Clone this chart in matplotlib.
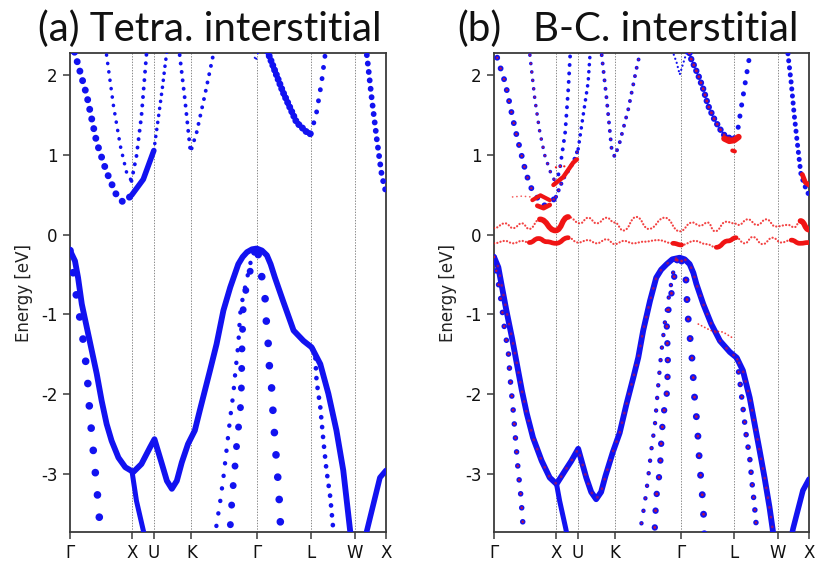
import matplotlib
matplotlib.use("Agg")
import matplotlib.pyplot as plt
from matplotlib.path import Path
from matplotlib.patches import PathPatch

plt.rcParams['axes.unicode_minus'] = False
plt.rcParams['lines.scale_dashes'] = False

BLUE = '#1212f0'
RED = '#f01414'

# high-symmetry path of the fcc zone (k distance in 2pi/a)
kpath_labels = ['Γ', 'X', 'U', 'K', 'Γ', 'L', 'W', 'X']
kpath_ticks = [0.0, 1.0, 1.354, 1.954, 3.015, 3.881, 4.588, 5.088]
e_ticks = [-3, -2, -1, 0, 1, 2]
e_range = (-3.72, 2.27)

# ---------------- (a) tetrahedral interstitial ----------------
a_v1_k = [0, 0.08, 0.13, 0.19, 0.27, 0.35, 0.43, 0.51, 0.59, 0.67, 0.78, 0.89, 1.02, 1.15, 1.29, 1.36,
          1.48, 1.56, 1.64, 1.72, 1.80, 1.90, 2.01, 2.09, 2.254, 2.36, 2.47, 2.58, 2.71, 2.78, 2.85,
          2.93, 3.006, 3.09, 3.17, 3.23, 3.30, 3.43, 3.60, 3.76, 3.89, 4.03, 4.16, 4.29, 4.40, 4.51,
          4.53]
a_v1_e = [-0.20, -0.33, -0.54, -0.87, -1.16, -1.45, -1.74, -2.08, -2.37, -2.58, -2.79, -2.91, -2.97,
          -2.87, -2.66, -2.56, -2.87, -3.08, -3.18, -3.08, -2.85, -2.62, -2.45, -2.20, -1.70, -1.37,
          -0.95, -0.66, -0.37, -0.28, -0.22, -0.185, -0.175, -0.20, -0.26, -0.37, -0.54, -0.83, -1.20,
          -1.33, -1.41, -1.62, -1.99, -2.45, -2.95, -3.70, -3.80]
a_v2_k = [0, 0.10, 0.20, 0.27, 0.30, 0.32, 0.36, 0.39, 0.43, 0.46, 0.49, 0.50]
a_v2_e = [-0.20, -0.75, -1.25, -1.70, -1.99, -2.27, -2.56, -2.85, -3.14, -3.43, -3.70, -3.80]
a_xdown_k = [1.0, 1.07, 1.18, 1.21]
a_xdown_e = [-2.97, -3.33, -3.70, -3.80]
a_linner_k = [3.91, 3.95, 3.97, 4.03, 4.08, 4.13, 4.19, 4.24, 4.25]
a_linner_e = [-1.43, -1.53, -1.83, -2.16, -2.58, -2.95, -3.28, -3.70, -3.80]
a_gright_k = [3.03, 3.06, 3.09, 3.14, 3.155, 3.19, 3.21, 3.25, 3.27, 3.30, 3.33, 3.36, 3.38, 3.40]
a_gright_e = [-0.25, -0.37, -0.54, -0.78, -1.03, -1.35, -1.64, -1.95, -2.24, -2.58, -2.89, -3.18,
              -3.49, -3.80]
a_ginner_k = [2.97, 2.92, 2.87, 2.83, 2.79, 2.77, 2.76, 2.74, 2.69, 2.66, 2.62, 2.59, 2.57]
a_ginner_e = [-0.22, -0.41, -0.54, -0.70, -0.89, -1.40, -1.91, -2.24, -2.56, -2.87, -3.20, -3.52, -3.80]
a_gouter_k = [2.95, 2.85, 2.78, 2.74, 2.71, 2.66, 2.63, 2.58, 2.52, 2.47, 2.42, 2.35, 2.33]
a_gouter_e = [-0.20, -0.55, -0.80, -0.99, -1.37, -1.74, -1.99, -2.29, -2.70, -3.04, -3.33, -3.68, -3.80]
a_wx_k = [4.75, 4.99, 5.088]
a_wx_e = [-3.80, -3.04, -2.95]

a_c1a_k = [0.03, 0.08, 0.27, 0.43, 0.59, 0.75, 0.86, 0.99]
a_c1a_e = [2.40, 2.26, 1.74, 1.15, 0.78, 0.49, 0.40, 0.49]
a_c1b_k = [0.99, 1.18, 1.35]
a_c1b_e = [0.49, 0.69, 1.05]
a_c1c_k = [1.35, 1.43, 1.49, 1.53, 1.57]
a_c1c_e = [1.05, 1.50, 1.85, 2.11, 2.35]
a_c2_k = [0.57, 0.70, 0.81, 0.91, 0.99]
a_c2_e = [2.35, 1.61, 1.11, 0.78, 0.67]
a_c3_k = [0.99, 1.07, 1.15, 1.23, 1.24]
a_c3_e = [0.67, 0.98, 1.48, 2.24, 2.35]
a_c4_k = [1.75, 1.85, 1.94, 2.04, 2.17, 2.31, 2.32]
a_c4_e = [2.35, 1.69, 1.03, 1.28, 1.74, 2.26, 2.35]
a_c5_k = [3.15, 3.43, 3.65, 3.84, 3.88]
a_c5_e = [2.35, 1.78, 1.40, 1.26, 1.26]
a_c5b_k = [3.88, 3.97, 4.05, 4.11, 4.12]
a_c5b_e = [1.26, 1.53, 1.90, 2.26, 2.35]
a_c6_k = [4.77, 4.78, 4.86, 4.94, 5.02, 5.088]
a_c6_e = [2.35, 2.24, 1.69, 1.19, 0.74, 0.52]
a_gtop_k = [2.95, 2.99, 3.03]
a_gtop_e = [2.28, 2.17, 2.28]

# ---------------- (b) bond-centred interstitial ----------------
b_v1_k = [0, 0.07, 0.12, 0.20, 0.29, 0.37, 0.45, 0.53, 0.63, 0.77, 0.90, 1.01, 1.15, 1.25, 1.36, 1.49,
          1.57, 1.65, 1.73, 1.80, 1.92, 2.03, 2.14, 2.25, 2.33, 2.41, 2.52, 2.62, 2.70, 2.79, 2.88,
          3.0, 3.08, 3.16, 3.22, 3.27, 3.38, 3.51, 3.65, 3.81, 3.92, 4.02, 4.13, 4.21, 4.29, 4.37,
          4.45, 4.50, 4.52]
b_v1_e = [-0.28, -0.41, -0.62, -0.95, -1.29, -1.62, -1.95, -2.24, -2.54, -2.83, -3.04, -3.12, -2.95,
          -2.83, -2.68, -3.04, -3.22, -3.31, -3.22, -3.02, -2.72, -2.48, -2.12, -1.79, -1.54, -1.20,
          -0.83, -0.54, -0.44, -0.37, -0.31, -0.29, -0.31, -0.37, -0.48, -0.62, -0.87, -1.12, -1.33,
          -1.47, -1.54, -1.70, -2.04, -2.37, -2.70, -3.04, -3.41, -3.68, -3.80]
b_v2_k = [0, 0.10, 0.18, 0.23, 0.26, 0.31, 0.35, 0.39, 0.43, 0.46, 0.48]
b_v2_e = [-0.28, -0.75, -1.24, -1.45, -1.79, -2.20, -2.58, -2.95, -3.24, -3.54, -3.80]
b_xdown_k = [1.01, 1.06, 1.16, 1.19]
b_xdown_e = [-3.12, -3.33, -3.68, -3.80]
b_linner_k = [3.93, 3.94, 3.97, 4.02, 4.07, 4.13, 4.17, 4.21, 4.24, 4.25]
b_linner_e = [-1.56, -1.66, -1.83, -2.16, -2.49, -2.79, -3.12, -3.41, -3.68, -3.80]
b_gright_k = [3.03, 3.08, 3.11, 3.12, 3.15, 3.19, 3.21, 3.24, 3.27, 3.30, 3.32, 3.35, 3.38, 3.40]
b_gright_e = [-0.33, -0.45, -0.62, -0.89, -1.18, -1.45, -1.70, -2.04, -2.29, -2.58, -2.87, -3.12,
              -3.41, -3.80]
b_ginner_k = [2.96, 2.92, 2.88, 2.85, 2.81, 2.79, 2.80, 2.81, 2.79, 2.73, 2.70, 2.68, 2.62, 2.60, 2.59]
b_ginner_e = [-0.32, -0.49, -0.66, -0.83, -0.97, -1.12, -1.35, -1.66, -1.99, -2.29, -2.62, -2.95,
              -3.29, -3.62, -3.80]
b_gouter_k = [2.93, 2.83, 2.76, 2.70, 2.65, 2.60, 2.54, 2.49, 2.44, 2.38, 2.36]
b_gouter_e = [-0.32, -0.75, -1.10, -1.49, -1.91, -2.37, -2.70, -3.04, -3.33, -3.62, -3.80]
b_wx_k = [4.80, 4.83, 4.99, 5.088]
b_wx_e = [-3.80, -3.68, -3.20, -3.06]

b_c1a_k = [0.02, 0.04, 0.18, 0.26, 0.34, 0.42, 0.50, 0.58, 0.69, 0.80, 0.92, 1.0]
b_c1a_e = [2.35, 2.24, 1.90, 1.61, 1.32, 1.07, 0.82, 0.61, 0.47, 0.36, 0.40, 0.47]
b_c1b_k = [1.0, 1.12, 1.28, 1.36]
b_c1b_e = [0.47, 0.70, 0.90, 1.07]
b_c1c_k = [1.36, 1.44, 1.52, 1.55, 1.56]
b_c1c_e = [1.07, 1.49, 1.90, 2.24, 2.35]
b_c2_k = [0.57, 0.58, 0.66, 0.74, 0.82, 0.93, 1.0]
b_c2_e = [2.35, 2.24, 1.69, 1.28, 0.99, 0.74, 0.65]
b_c3_k = [1.0, 1.06, 1.15, 1.20, 1.23, 1.24]
b_c3_e = [0.65, 0.80, 1.28, 1.82, 2.24, 2.35]
b_c4_k = [1.73, 1.74, 1.82, 1.90, 1.95, 2.03, 2.17, 2.30, 2.35, 2.36]
b_c4_e = [2.35, 2.24, 1.69, 1.07, 0.97, 1.15, 1.57, 2.07, 2.24, 2.35]
b_c5_k = [3.15, 3.16, 3.30, 3.38, 3.46, 3.56, 3.65, 3.75, 3.88]
b_c5_e = [2.35, 2.24, 1.99, 1.82, 1.61, 1.44, 1.32, 1.21, 1.21]
b_c5b_k = [3.88, 3.94, 3.99, 4.05, 4.13, 4.14]
b_c5b_e = [1.21, 1.32, 1.57, 1.86, 2.24, 2.35]
b_c6_k = [4.74, 4.75, 4.80, 4.85, 4.91, 4.96, 5.04, 5.088]
b_c6_e = [2.35, 2.24, 1.90, 1.49, 1.07, 0.74, 0.57, 0.49]
b_gtop_k = [2.88, 2.95, 3.0, 3.06, 3.12]
b_gtop_e = [2.30, 2.15, 2.00, 2.15, 2.30]

# defect-derived (red) weight in (b); the two gap states are given by their turning points
b_def_up_k = [0.0, 0.18, 0.31, 0.45, 0.57, 0.74, 0.995, 1.20, 1.39, 1.52, 1.66, 1.82, 1.95, 2.09, 2.30,
              2.50, 2.76, 3.0, 3.2, 3.33, 3.45, 3.57, 3.75, 3.88, 3.95, 4.10, 4.25, 4.40, 4.55, 4.75,
              4.85, 4.95, 5.088]
b_def_up_e = [0.08, 0.14, 0.08, 0.14, 0.07, 0.19, 0.05, 0.22, 0.14, 0.21, 0.14, 0.21, 0.15, 0.05, 0.22,
              0.07, 0.21, 0.04, 0.15, 0.11, 0.15, 0.04, 0.16, 0.14, 0.12, 0.19, 0.12, 0.19, 0.10, 0.12,
              0.09, 0.17, 0.06]
b_def_lo_k = [0.0, 0.18, 0.31, 0.45, 0.57, 0.72, 0.85, 1.0, 1.2, 1.36, 1.52, 1.66, 1.82, 1.95, 2.1,
              2.25, 2.42, 2.65, 2.89, 3.03, 3.24, 3.43, 3.59, 3.78, 3.91, 4.05, 4.18, 4.34, 4.50, 4.64,
              4.80, 4.94, 5.088]
b_def_lo_e = [-0.11, -0.08, -0.11, -0.08, -0.10, -0.05, -0.09, -0.11, -0.04, -0.10, -0.07, -0.11, -0.06,
              -0.12, -0.08, -0.11, -0.09, -0.07, -0.11, -0.13, -0.08, -0.12, -0.16, -0.08, -0.04, -0.11,
              -0.03, -0.12, -0.04, -0.10, -0.07, -0.11, -0.10]
b_red_rise_k = [0.96, 1.12, 1.28, 1.34]
b_red_rise_e = [0.62, 0.72, 0.90, 0.94]
b_red_min_k = [0.70, 0.80, 0.90]
b_red_min_e = [0.36, 0.33, 0.37]
b_red_arc_k = [0.62, 0.75, 0.90]
b_red_arc_e = [0.43, 0.49, 0.43]
b_red_thin_k = [0.30, 0.45, 0.60]
b_red_thin_e = [0.47, 0.48, 0.47]
b_red_xup_k = [1.0, 1.1, 1.2]
b_red_xup_e = [0.84, 0.86, 0.84]
b_red_l_k = [3.72, 3.80, 3.88, 3.95]
b_red_l_e = [1.20, 1.17, 1.18, 1.22]
b_red_ldot_k = [3.85, 3.89]
b_red_ldot_e = [1.05, 1.04]
b_red_xr_k = [4.98, 5.03, 5.088]
b_red_xr_e = [0.75, 0.65, 0.62]
b_red_vb_k = [3.30, 3.50, 3.70, 3.87]
b_red_vb_e = [-1.12, -1.20, -1.22, -1.30]

# emphasised stretches of the two gap states
up_thick = [(0.70, 1.25), (4.90, 5.088)]
lo_thick = [(0.55, 1.25), (2.85, 3.12), (3.50, 3.95), (4.75, 5.088)]


def draw(ax, k, e, lw, gap=None, color=BLUE, alpha=1.0, core=None, z=3):
    ls = '-' if gap is None else (0, (0.1, gap))
    ax.plot(k, e, color=color, lw=lw, ls=ls, alpha=alpha, dash_capstyle='round',
            solid_capstyle='round', solid_joinstyle='round', zorder=z)
    if core:
        ax.plot(k, e, color=RED, lw=lw * core, ls=ls, alpha=0.75, dash_capstyle='round',
                solid_capstyle='round', solid_joinstyle='round', zorder=z + 1)


def wave(ax, k, e, lw, gap=None, alpha=1.0, z=4):
    # smooth curve through the turning points, flat at each of them
    verts = [(k[0], e[0])]
    codes = [Path.MOVETO]
    for i in range(1, len(k)):
        km = 0.5 * (k[i - 1] + k[i])
        verts += [(km, e[i - 1]), (km, e[i]), (k[i], e[i])]
        codes += [Path.CURVE4] * 3
    ls = '-' if gap is None else (0, (0.1, gap))
    ax.add_patch(PathPatch(Path(verts, codes), fill=False, edgecolor=RED, lw=lw, ls=ls,
                           alpha=alpha, capstyle='round', joinstyle='round', zorder=z))


def segments(k, e, ranges):
    out = []
    for lo, hi in ranges:
        idx = [i for i, kk in enumerate(k) if lo <= kk <= hi]
        out.append(([k[i] for i in idx], [e[i] for i in idx]))
    return out


def style_axes(ax):
    ax.set_xlim(kpath_ticks[0], kpath_ticks[-1])
    ax.set_ylim(*e_range)
    ax.set_xticks(kpath_ticks)
    ax.set_xticklabels(kpath_labels)
    ax.set_yticks(e_ticks)
    for kk in kpath_ticks[1:-1]:
        ax.axvline(kk, color='#8a8a8a', lw=0.7, ls=(0, (1, 1)), zorder=1)
    for sp in ax.spines.values():
        sp.set_color('#3a3a3a')
        sp.set_linewidth(1.3)
    ax.tick_params(direction='out', length=5, width=1.1, labelsize=12, colors='#3a3a3a',
                   labelcolor='#111111', pad=4)
    ax.set_ylabel('Energy [eV]', fontsize=12, color='#222222', labelpad=6)


fig = plt.figure(figsize=(8.17, 5.67), dpi=100)
ax_a = fig.add_axes([70 / 817, 35 / 567, 316 / 817, 479 / 567])
ax_b = fig.add_axes([494 / 817, 35 / 567, 315 / 817, 479 / 567])

# panel (a)
draw(ax_a, a_v1_k, a_v1_e, 4.2)
draw(ax_a, a_v2_k, a_v2_e, 5.5, 16)
draw(ax_a, a_xdown_k, a_xdown_e, 3.6)
draw(ax_a, a_linner_k, a_linner_e, 3.4, 7)
draw(ax_a, a_gright_k, a_gright_e, 5.5, 16)
draw(ax_a, a_ginner_k, a_ginner_e, 5.0, 14)
draw(ax_a, a_gouter_k, a_gouter_e, 3.2, 9)
draw(ax_a, a_wx_k, a_wx_e, 4.0)
draw(ax_a, a_c1a_k, a_c1a_e, 5.0, 7)
draw(ax_a, a_c1b_k, a_c1b_e, 4.0)
draw(ax_a, a_c1c_k, a_c1c_e, 2.6, 5)
draw(ax_a, a_c2_k, a_c2_e, 2.6, 6)
draw(ax_a, a_c3_k, a_c3_e, 2.8, 6)
draw(ax_a, a_c4_k, a_c4_e, 2.8, 6)
draw(ax_a, a_c5_k, a_c5_e, 5.0, 3.5)
draw(ax_a, a_c5b_k, a_c5b_e, 3.5, 8)
draw(ax_a, a_c6_k, a_c6_e, 4.2, 6)
draw(ax_a, a_gtop_k, a_gtop_e, 1.5, 4)

# panel (b)
draw(ax_b, b_v1_k, b_v1_e, 4.2)
draw(ax_b, b_v1_k, b_v1_e, 2.0, 7, color=RED, alpha=0.55, z=4)
draw(ax_b, b_v2_k, b_v2_e, 4.0, 10, core=0.45)
draw(ax_b, b_xdown_k, b_xdown_e, 3.6)
draw(ax_b, b_linner_k, b_linner_e, 4.0, 9, core=0.4)
draw(ax_b, b_gright_k, b_gright_e, 5.0, 14, core=0.4)
draw(ax_b, b_ginner_k, b_ginner_e, 4.6, 12, core=0.45)
draw(ax_b, b_gouter_k, b_gouter_e, 3.2, 9, core=0.4)
draw(ax_b, b_wx_k, b_wx_e, 4.0)
draw(ax_b, b_c1a_k, b_c1a_e, 4.2, 8, core=0.4)
draw(ax_b, b_c1b_k, b_c1b_e, 3.0, 5, core=0.4)
draw(ax_b, b_c1c_k, b_c1c_e, 2.6, 5)
draw(ax_b, b_c2_k, b_c2_e, 2.6, 6, core=0.5)
draw(ax_b, b_c3_k, b_c3_e, 2.8, 6)
draw(ax_b, b_c4_k, b_c4_e, 2.8, 6, core=0.4)
draw(ax_b, b_c5_k, b_c5_e, 4.6, 4.5, core=0.45)
draw(ax_b, b_c5b_k, b_c5b_e, 3.6, 8)
draw(ax_b, b_c6_k, b_c6_e, 3.6, 5)
draw(ax_b, b_gtop_k, b_gtop_e, 1.6, 3)

wave(ax_b, b_def_up_k, b_def_up_e, 1.6, 2.3, alpha=0.8)
wave(ax_b, b_def_lo_k, b_def_lo_e, 1.6, 2.3, alpha=0.8)
for kk, ee in segments(b_def_up_k, b_def_up_e, up_thick):
    wave(ax_b, kk, ee, 4.0)
for kk, ee in segments(b_def_lo_k, b_def_lo_e, lo_thick):
    wave(ax_b, kk, ee, 3.4)
draw(ax_b, b_red_rise_k, b_red_rise_e, 3.2, color=RED, z=5)
draw(ax_b, b_red_min_k, b_red_min_e, 3.4, color=RED, z=5)
draw(ax_b, b_red_arc_k, b_red_arc_e, 3.0, color=RED, z=5)
draw(ax_b, b_red_thin_k, b_red_thin_e, 1.2, 3, color=RED, alpha=0.7)
draw(ax_b, b_red_xup_k, b_red_xup_e, 1.6, 3, color=RED)
draw(ax_b, b_red_l_k, b_red_l_e, 4.5, color=RED, z=5)
draw(ax_b, b_red_ldot_k, b_red_ldot_e, 3.0, color=RED, z=5)
draw(ax_b, b_red_xr_k, b_red_xr_e, 3.5, color=RED, z=5)
draw(ax_b, b_red_vb_k, b_red_vb_e, 1.3, 2.5, color=RED, alpha=0.8, z=5)

style_axes(ax_a)
style_axes(ax_b)

title_kw = dict(fontsize=29, family=['Lato', 'DejaVu Sans'], va='baseline', color='#111111')
fig.text(38 / 817, 1 - 41 / 567, '(a) Tetra. interstitial', **title_kw)
fig.text(457 / 817, 1 - 41 / 567, '(b)', **title_kw)
fig.text(533 / 817, 1 - 41 / 567, 'B-C. interstitial', **title_kw)

fig.savefig('out.png', dpi=100, facecolor='white')
